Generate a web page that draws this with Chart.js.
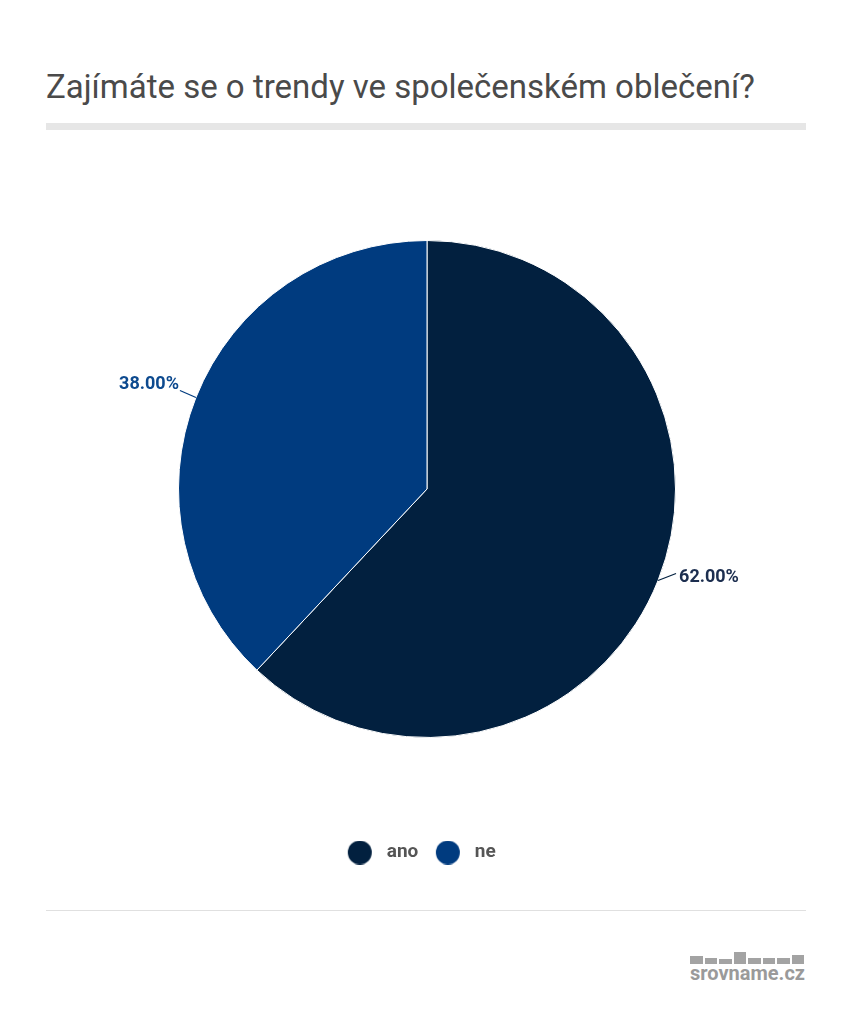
<!DOCTYPE html>
<html>
<head>
<meta charset="utf-8">
<script src="https://cdn.jsdelivr.net/npm/chart.js@4"></script>
<style>
  html, body { margin: 0; padding: 0; background: #fff; }
  body { width: 853px; height: 1024px; position: relative; overflow: hidden; font-family: Roboto, sans-serif; }
  #title { position: absolute; left: 46px; top: 70px; font-size: 33px; line-height: 33px; color: #4a4a4a; white-space: nowrap; }
  #bar { position: absolute; left: 46px; top: 123px; width: 760px; height: 7px; background: #e6e6e6; }
  #rule { position: absolute; left: 46px; top: 910px; width: 760px; height: 1px; background: #e0e0e0; }
  #wrap { position: absolute; left: 0; top: 0; width: 853px; height: 878px; }
  #logo { position: absolute; left: 690px; top: 952px; width: 116px; color: #9a9a9a; }
  #logo .bars { height: 12px; display: flex; align-items: flex-end; gap: 2px; }
  #logo .bars span { display: block; width: 12.5px; background: #a3a3a3; }
  #logo .txt { font-size: 20px; font-weight: bold; line-height: 18px; margin-top: 0px; }
</style>
</head>
<body>
<div id="title">Zajímáte se o trendy ve společenském oblečení?</div>
<div id="bar"></div>
<div id="wrap"><canvas id="pie"></canvas></div>
<div id="rule"></div>
<div id="logo">
  <div class="bars"><span style="height:8px"></span><span style="height:6px"></span><span style="height:5px"></span><span style="height:12px"></span><span style="height:6px"></span><span style="height:6px"></span><span style="height:6px"></span><span style="height:9px"></span></div>
  <div class="txt">srovname.cz</div>
</div>
<script>
// data
var categories = ['ano', 'ne'];
var values = [62, 38];
var colors = ['#02203f', '#003b7f'];
var labelColors = ['#1c2e4f', '#0d4a8f'];

function dot(color) {
  var c = document.createElement('canvas');
  c.width = 48; c.height = 24;
  var g = c.getContext('2d');
  g.fillStyle = color;
  g.beginPath();
  g.arc(16, 12, 12, 0, Math.PI * 2);
  g.fill();
  return c;
}

// percentage labels with short leader lines
var leaderLabels = {
  id: 'leaderLabels',
  afterDatasetsDraw: function(chart) {
    var ctx = chart.ctx;
    var meta = chart.getDatasetMeta(0);
    var total = values.reduce(function(a, b) { return a + b; }, 0);
    meta.data.forEach(function(arc, i) {
      var p = arc.getProps(['x', 'y', 'startAngle', 'endAngle', 'outerRadius'], true);
      var mid = (p.startAngle + p.endAngle) / 2;
      var ex = p.x + Math.cos(mid) * p.outerRadius;
      var ey = p.y + Math.sin(mid) * p.outerRadius;
      var right = Math.cos(mid) >= 0;
      var lx = ex + (right ? 18 : -16);
      var ly = ey - 7;
      ctx.save();
      ctx.strokeStyle = colors[i];
      ctx.lineWidth = 1.2;
      ctx.beginPath();
      ctx.moveTo(ex, ey);
      ctx.lineTo(lx, ly);
      ctx.stroke();
      ctx.fillStyle = labelColors[i];
      ctx.font = 'bold 18px Roboto';
      ctx.textBaseline = 'middle';
      ctx.textAlign = right ? 'left' : 'right';
      ctx.fillText((values[i] / total * 100).toFixed(2) + '%', lx + (right ? 3 : -1), ly + (right ? 4 : -6));
      ctx.restore();
    });
  }
};

new Chart(document.getElementById('pie'), {
  type: 'pie',
  data: {
    labels: categories,
    datasets: [{
      data: values,
      backgroundColor: colors,
      borderColor: '#ffffff',
      borderWidth: 1
    }]
  },
  options: {
    responsive: true,
    maintainAspectRatio: false,
    animation: false,
    layout: { padding: { top: 163, left: 178, right: 177, bottom: 6 } },
    plugins: {
      tooltip: { enabled: false },
      legend: {
        position: 'bottom',
        labels: {
          usePointStyle: true,
          padding: 28,
          color: '#555555',
          font: { family: 'Roboto', size: 19, weight: 'bold' },
          generateLabels: function(chart) {
            return categories.map(function(c, i) {
              return { text: c, pointStyle: dot(colors[i]), fillStyle: colors[i], strokeStyle: colors[i], fontColor: '#555555', lineWidth: 0, index: i, hidden: false };
            });
          }
        }
      }
    }
  },
  plugins: [leaderLabels]
});
</script>
</body>
</html>
